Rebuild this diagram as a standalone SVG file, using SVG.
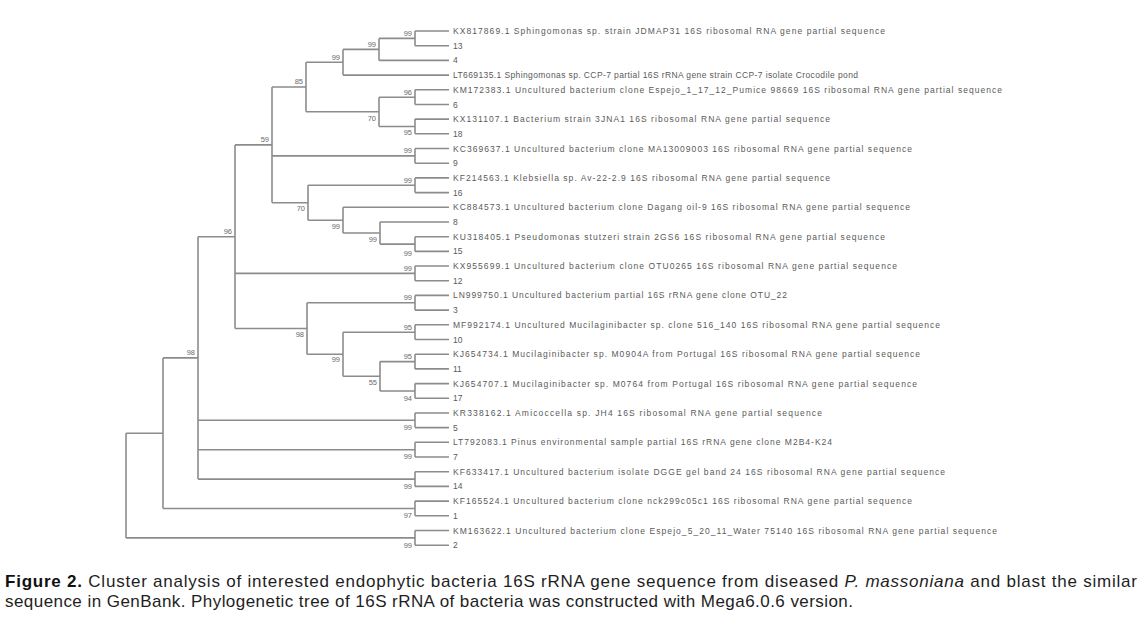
<svg xmlns="http://www.w3.org/2000/svg" width="1142" height="624" viewBox="0 0 1142 624">
<style>
.br{fill:none;stroke:#8c8c8c;stroke-width:1.6}
.lf{font-family:"Liberation Sans",Arial,sans-serif;font-size:8.5px;fill:#5a5a5a}
.bs{font-family:"Liberation Sans",Arial,sans-serif;font-size:7.5px;fill:#6a6a6a;text-anchor:end}
.cap{font-family:"Liberation Sans",Arial,sans-serif;font-size:17px;fill:#1e1e1e}
</style>
<rect width="1142" height="624" fill="#ffffff"/>
<g id="connectors">
<!-- root -->
<path class="br" d="M126,433.2V537.9M126,433.2H163M126,537.9H415"/>
<path class="br" d="M163,357.9V508.5M163,357.9H198M163,508.5H415"/>
<path class="br" d="M198,236.7V479.1M198,236.7H235M198,420.3H415M198,449.7H415M198,479.1H415"/>
<path class="br" d="M235,144.9V328.5M235,144.9H272M235,273.4H415M235,328.5H307"/>
<path class="br" d="M272,87V202.7M272,87H306M272,155.9H415M272,202.7H308"/>
<path class="br" d="M306,62.3V111.8M306,62.3H343M306,111.8H379"/>
<path class="br" d="M343,49.4V75.1M343,49.4H379M343,75.1H449"/>
<path class="br" d="M379,38.4V60.4M379,38.4H415M379,60.4H449"/>
<path class="br" d="M379,97.2V126.5M379,97.2H415M379,126.5H415"/>
<path class="br" d="M308,185.3V220.2M308,185.3H415M308,220.2H343"/>
<path class="br" d="M343,207.3V233M343,207.3H449M343,233H380"/>
<path class="br" d="M380,222V244.1M380,222H449M380,244.1H415"/>
<path class="br" d="M307,302.8V354.2M307,302.8H415M307,354.2H343"/>
<path class="br" d="M343,332.2V376.3M343,332.2H415M343,376.3H380"/>
<path class="br" d="M380,361.6V391M380,361.6H415M380,391H415"/>
<!-- terminal pairs -->
<path class="br" d="M415,31V45.7M415,31H449M415,45.7H449"/>
<path class="br" d="M415,89.8V104.5M415,89.8H449M415,104.5H449"/>
<path class="br" d="M415,119.1V133.8M415,119.1H449M415,133.8H449"/>
<path class="br" d="M415,148.5V163.2M415,148.5H449M415,163.2H449"/>
<path class="br" d="M415,177.9V192.6M415,177.9H449M415,192.6H449"/>
<path class="br" d="M415,236.7V251.4M415,236.7H449M415,251.4H449"/>
<path class="br" d="M415,266V280.7M415,266H449M415,280.7H449"/>
<path class="br" d="M415,295.4V310.1M415,295.4H449M415,310.1H449"/>
<path class="br" d="M415,324.8V339.5M415,324.8H449M415,339.5H449"/>
<path class="br" d="M415,354.2V368.9M415,354.2H449M415,368.9H449"/>
<path class="br" d="M415,383.6V398.3M415,383.6H449M415,398.3H449"/>
<path class="br" d="M415,413V427.6M415,413H449M415,427.6H449"/>
<path class="br" d="M415,442.3V457M415,442.3H449M415,457H449"/>
<path class="br" d="M415,471.7V486.4M415,471.7H449M415,486.4H449"/>
<path class="br" d="M415,501.1V515.8M415,501.1H449M415,515.8H449"/>
<path class="br" d="M415,530.5V545.2M415,530.5H449M415,545.2H449"/>
</g>
<g id="bootstrap">
<text class="bs" x="412" y="35.5">99</text>
<text class="bs" x="376" y="46.5">99</text>
<text class="bs" x="340" y="59.5">99</text>
<text class="bs" x="303" y="84">85</text>
<text class="bs" x="412" y="94.5">96</text>
<text class="bs" x="376" y="121">70</text>
<text class="bs" x="412" y="135">95</text>
<text class="bs" x="269" y="142">59</text>
<text class="bs" x="412" y="153">99</text>
<text class="bs" x="412" y="182.5">99</text>
<text class="bs" x="305" y="211">70</text>
<text class="bs" x="340" y="229">99</text>
<text class="bs" x="377" y="242">99</text>
<text class="bs" x="412" y="256">99</text>
<text class="bs" x="232" y="234">96</text>
<text class="bs" x="412" y="271">99</text>
<text class="bs" x="412" y="300">99</text>
<text class="bs" x="304" y="337">98</text>
<text class="bs" x="412" y="329.5">95</text>
<text class="bs" x="412" y="359">95</text>
<text class="bs" x="340" y="362">99</text>
<text class="bs" x="377" y="385">55</text>
<text class="bs" x="412" y="400.5">94</text>
<text class="bs" x="195" y="355">98</text>
<text class="bs" x="412" y="429.5">99</text>
<text class="bs" x="412" y="459">99</text>
<text class="bs" x="412" y="488.5">99</text>
<text class="bs" x="412" y="518">97</text>
<text class="bs" x="412" y="547.5">99</text>
</g>
<g id="n1"><text class="lf" x="453" y="34" textLength="432" lengthAdjust="spacing">KX817869.1 Sphingomonas sp. strain JDMAP31 16S ribosomal RNA gene partial sequence</text></g>
<g id="n2"><text class="lf" x="453" y="48.7">13</text></g>
<g id="n3"><text class="lf" x="453" y="63.4">4</text></g>
<g id="n4"><text class="lf" x="453" y="78.1" textLength="405" lengthAdjust="spacing">LT669135.1 Sphingomonas sp. CCP-7 partial 16S rRNA gene strain CCP-7 isolate Crocodile pond</text></g>
<g id="n5"><text class="lf" x="453" y="92.8" textLength="549" lengthAdjust="spacing">KM172383.1 Uncultured bacterium clone Espejo_1_17_12_Pumice 98669 16S ribosomal RNA gene partial sequence</text></g>
<g id="n6"><text class="lf" x="453" y="107.5">6</text></g>
<g id="n7"><text class="lf" x="453" y="122.1" textLength="377" lengthAdjust="spacing">KX131107.1 Bacterium strain 3JNA1 16S ribosomal RNA gene partial sequence</text></g>
<g id="n8"><text class="lf" x="453" y="136.8">18</text></g>
<g id="n9"><text class="lf" x="453" y="151.5" textLength="459" lengthAdjust="spacing">KC369637.1 Uncultured bacterium clone MA13009003 16S ribosomal RNA gene partial sequence</text></g>
<g id="n10"><text class="lf" x="453" y="166.2">9</text></g>
<g id="n11"><text class="lf" x="453" y="180.9" textLength="377" lengthAdjust="spacing">KF214563.1 Klebsiella sp. Av-22-2.9 16S ribosomal RNA gene partial sequence</text></g>
<g id="n12"><text class="lf" x="453" y="195.6">16</text></g>
<g id="n13"><text class="lf" x="453" y="210.3" textLength="457" lengthAdjust="spacing">KC884573.1 Uncultured bacterium clone Dagang oil-9 16S ribosomal RNA gene partial sequence</text></g>
<g id="n14"><text class="lf" x="453" y="225">8</text></g>
<g id="n15"><text class="lf" x="453" y="239.7" textLength="432" lengthAdjust="spacing">KU318405.1 Pseudomonas stutzeri strain 2GS6 16S ribosomal RNA gene partial sequence</text></g>
<g id="n16"><text class="lf" x="453" y="254.4">15</text></g>
<g id="n17"><text class="lf" x="453" y="269" textLength="444" lengthAdjust="spacing">KX955699.1 Uncultured bacterium clone OTU0265 16S ribosomal RNA gene partial sequence</text></g>
<g id="n18"><text class="lf" x="453" y="283.7">12</text></g>
<g id="n19"><text class="lf" x="453" y="298.4" textLength="334" lengthAdjust="spacing">LN999750.1 Uncultured bacterium partial 16S rRNA gene clone OTU_22</text></g>
<g id="n20"><text class="lf" x="453" y="313.1">3</text></g>
<g id="n21"><text class="lf" x="453" y="327.8" textLength="487" lengthAdjust="spacing">MF992174.1 Uncultured Mucilaginibacter sp. clone 516_140 16S ribosomal RNA gene partial sequence</text></g>
<g id="n22"><text class="lf" x="453" y="342.5">10</text></g>
<g id="n23"><text class="lf" x="453" y="357.2" textLength="467" lengthAdjust="spacing">KJ654734.1 Mucilaginibacter sp. M0904A from Portugal 16S ribosomal RNA gene partial sequence</text></g>
<g id="n24"><text class="lf" x="453" y="371.9">11</text></g>
<g id="n25"><text class="lf" x="453" y="386.6" textLength="464" lengthAdjust="spacing">KJ654707.1 Mucilaginibacter sp. M0764 from Portugal 16S ribosomal RNA gene partial sequence</text></g>
<g id="n26"><text class="lf" x="453" y="401.3">17</text></g>
<g id="n27"><text class="lf" x="453" y="416" textLength="369" lengthAdjust="spacing">KR338162.1 Amicoccella sp. JH4 16S ribosomal RNA gene partial sequence</text></g>
<g id="n28"><text class="lf" x="453" y="430.6">5</text></g>
<g id="n29"><text class="lf" x="453" y="445.3" textLength="379" lengthAdjust="spacing">LT792083.1 Pinus environmental sample partial 16S rRNA gene clone M2B4-K24</text></g>
<g id="n30"><text class="lf" x="453" y="460">7</text></g>
<g id="n31"><text class="lf" x="453" y="474.7" textLength="492" lengthAdjust="spacing">KF633417.1 Uncultured bacterium isolate DGGE gel band 24 16S ribosomal RNA gene partial sequence</text></g>
<g id="n32"><text class="lf" x="453" y="489.4">14</text></g>
<g id="n33"><text class="lf" x="453" y="504.1" textLength="459" lengthAdjust="spacing">KF165524.1 Uncultured bacterium clone nck299c05c1 16S ribosomal RNA gene partial sequence</text></g>
<g id="n34"><text class="lf" x="453" y="518.8">1</text></g>
<g id="n35"><text class="lf" x="453" y="533.5" textLength="544" lengthAdjust="spacing">KM163622.1 Uncultured bacterium clone Espejo_5_20_11_Water 75140 16S ribosomal RNA gene partial sequence</text></g>
<g id="n36"><text class="lf" x="453" y="548.2">2</text></g>
<g id="caption">
<text class="cap" x="5" y="587" textLength="1132" lengthAdjust="spacing"><tspan font-weight="bold" fill="#111">Figure 2.</tspan> Cluster analysis of interested endophytic bacteria 16S rRNA gene sequence from diseased <tspan font-style="italic">P. massoniana</tspan> and blast the similar</text>
<text class="cap" x="5" y="607" textLength="848" lengthAdjust="spacing">sequence in GenBank. Phylogenetic tree of 16S rRNA of bacteria was constructed with Mega6.0.6 version.</text>
</g>
</svg>
